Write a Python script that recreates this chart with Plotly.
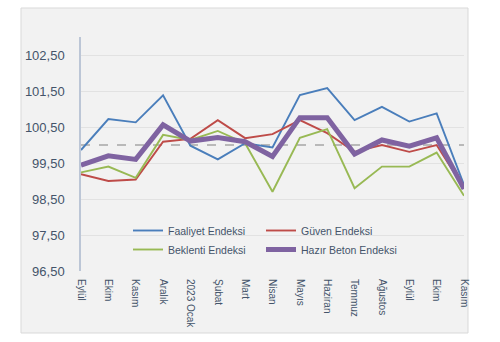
import plotly.graph_objects as go

# Months on the x axis (Sept 2022 - Nov 2023)
months = ["Eylül", "Ekim", "Kasım", "Aralık", "2023 Ocak", "Şubat", "Mart", "Nisan",
          "Mayıs", "Haziran", "Temmuz", "Ağustos", "Eylül ", "Ekim ", "Kasım "]

faaliyet = [99.86, 100.72, 100.63, 101.38, 99.98, 99.60, 100.05, 99.93,
            101.39, 101.58, 100.69, 101.06, 100.65, 100.88, 98.89]
guven = [99.19, 99.00, 99.04, 100.09, 100.17, 100.69, 100.19, 100.30,
         100.69, 100.33, 99.81, 100.00, 99.81, 100.00, 98.80]
beklenti = [99.24, 99.40, 99.09, 100.28, 100.14, 100.39, 100.05, 98.70,
            100.20, 100.44, 98.80, 99.40, 99.40, 99.79, 98.59]
hazir_beton = [99.44, 99.70, 99.60, 100.56, 100.11, 100.21, 100.09, 99.68,
               100.76, 100.76, 99.75, 100.14, 99.97, 100.20, 98.78]
threshold = [100.0] * len(months)

y_ticks = [96.5, 97.5, 98.5, 99.5, 100.5, 101.5, 102.5]
y_labels = ["96,50", "97,50", "98,50", "99,50", "100,50", "101,50", "102,50"]

text_color = "#44546a"
font_family = "Liberation Sans, Arial, sans-serif"

fig = go.Figure()

fig.add_trace(go.Scatter(x=months, y=threshold, mode="lines", showlegend=False,
                         line=dict(color="#a6a6a6", width=1.5, dash="dash"),
                         hoverinfo="skip"))

# name, values, colour, width, legend column
series = [
    ("Faaliyet Endeksi", faaliyet, "#4a7ebb", 1.9, "legend"),
    ("Güven Endeksi", guven, "#be4b48", 1.9, "legend2"),
    ("Beklenti Endeksi", beklenti, "#98b954", 1.9, "legend"),
    ("Hazır Beton Endeksi", hazir_beton, "#7f63a1", 5, "legend2"),
]
for name, vals, color, width, leg in series:
    fig.add_trace(go.Scatter(x=months, y=vals, mode="lines", name=name,
                             line=dict(color=color, width=width), legend=leg))

# Plot area geometry (pixels) used for the surrounding chart panel
L, R, T, B = 81, 36, 37, 71
W, H = 500, 342
pw, ph = W - L - R, H - T - B

def px_x(p):
    return (p - L) / pw

def px_y(p):
    return (H - B - p) / ph

fig.add_shape(type="rect", xref="paper", yref="paper",
              x0=px_x(21), x1=px_x(468), y0=px_y(333), y1=px_y(8),
              fillcolor="#f2f2f2", line=dict(color="#d9d9d9", width=1),
              layer="below")

legend_style = dict(orientation="v", xanchor="left", yanchor="top",
                    bgcolor="rgba(0,0,0,0)", tracegroupgap=0,
                    font=dict(size=10.5, color=text_color))

fig.update_layout(
    width=W, height=H,
    margin=dict(l=L, r=R, t=T, b=B),
    paper_bgcolor="white",
    plot_bgcolor="rgba(0,0,0,0)",
    font=dict(family=font_family, color=text_color),
    legend=dict(x=px_x(128), y=px_y(216), **legend_style),
    legend2=dict(x=px_x(261), y=px_y(216), **legend_style),
    xaxis=dict(type="category", tickangle=90, tickfont=dict(size=10, color=text_color),
               showgrid=False, showline=False, zeroline=False,
               ticks="outside", ticklen=5, tickcolor="rgba(0,0,0,0)"),
    yaxis=dict(range=[96.5, 103.0], tickvals=y_ticks, ticktext=y_labels,
               tickfont=dict(size=13, color=text_color),
               showgrid=True, gridcolor="#e2e2e2", gridwidth=1,
               showline=True, linecolor="#bcc6d6", linewidth=1.5,
               zeroline=False, ticks="outside", ticklen=12,
               tickcolor="rgba(0,0,0,0)"),
)

fig.write_html("out.html")
